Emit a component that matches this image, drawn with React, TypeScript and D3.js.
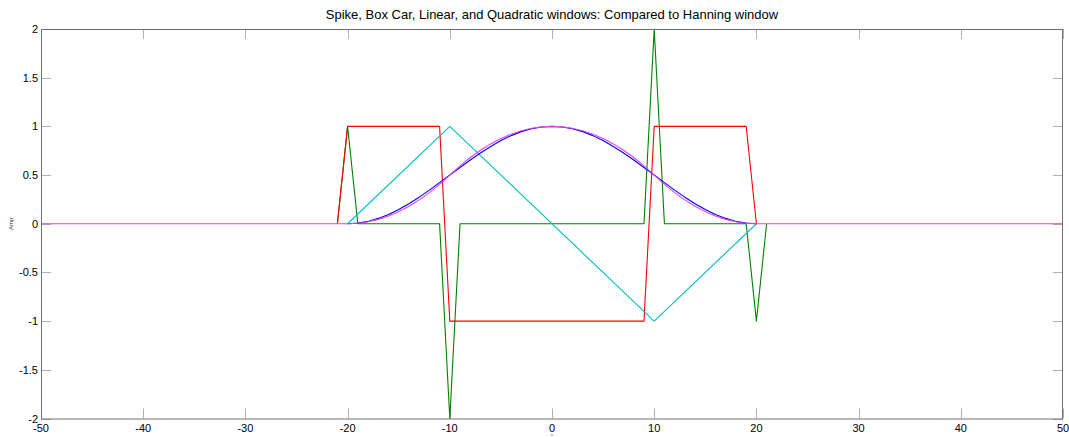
import React from "react";
import * as d3 from "d3";

// x positions of the quadratic window (samples at every integer from -20 to 20, flat outside)
const smoothX = [-50, -20, -19, -18, -17, -16, -15, -14, -13, -12, -11, -10, -9, -8, -7, -6, -5, -4, -3, -2, -1,
  0, 1, 2, 3, 4, 5, 6, 7, 8, 9, 10, 11, 12, 13, 14, 15, 16, 17, 18, 19, 20, 50];

// Hanning window (blue), only drawn on -20..20
const hanningX = [-20, -19, -18, -17, -16, -15, -14, -13, -12, -11, -10, -9, -8, -7, -6, -5, -4, -3, -2, -1,
  0, 1, 2, 3, 4, 5, 6, 7, 8, 9, 10, 11, 12, 13, 14, 15, 16, 17, 18, 19, 20];
const hanningY = [0, 0.006, 0.024, 0.055, 0.095, 0.146, 0.206, 0.273, 0.345, 0.422, 0.5, 0.578, 0.655, 0.727, 0.794, 0.854, 0.905, 0.946, 0.976, 0.994,
  1, 0.994, 0.976, 0.946, 0.905, 0.854, 0.794, 0.727, 0.655, 0.578, 0.5, 0.422, 0.345, 0.273, 0.206, 0.146, 0.095, 0.055, 0.024, 0.006, 0];

// Quadratic window (magenta)
const quadraticY = [0, 0, 0.005, 0.02, 0.045, 0.08, 0.125, 0.18, 0.245, 0.32, 0.405, 0.5, 0.595, 0.68, 0.755, 0.82, 0.875, 0.92, 0.955, 0.98, 0.995,
  1, 0.995, 0.98, 0.955, 0.92, 0.875, 0.82, 0.755, 0.68, 0.595, 0.5, 0.405, 0.32, 0.245, 0.18, 0.125, 0.08, 0.045, 0.02, 0.005, 0, 0];

// Box car window (red)
const boxX = [-21, -20, -11, -10, 9, 10, 19, 20];
const boxY = [0, 1, 1, -1, -1, 1, 1, 0];

// Spike window (green)
const spikeX = [-21, -20, -19, -11, -10, -9, 9, 10, 11, 19, 20, 21];
const spikeY = [0, 1, 0, 0, -2, 0, 0, 2, 0, 0, -1, 0];

// Linear window (cyan)
const linearX = [-20, -10, 10, 20];
const linearY = [0, 1, -1, 0];

const xTicks = [-50, -40, -30, -20, -10, 0, 10, 20, 30, 40, 50];
const yTicks = [-2, -1.5, -1, -0.5, 0, 0.5, 1, 1.5, 2];

const W = 1069;
const H = 437;
const margin = { top: 29, right: 6, bottom: 18.5, left: 41 };

const zip = (xs: number[], ys: number[]) => xs.map((x, i) => [x, ys[i]] as [number, number]);

export default function App() {
  const x = d3.scaleLinear().domain([-50, 50]).range([margin.left, W - margin.right]);
  const y = d3.scaleLinear().domain([-2, 2]).range([H - margin.bottom, margin.top]);
  const line = d3.line<[number, number]>().x(d => x(d[0])).y(d => y(d[1]));

  const series = [
    { data: zip(spikeX, spikeY), color: "#008000" },
    { data: zip(boxX, boxY), color: "#ff0000" },
    { data: zip(linearX, linearY), color: "#00bfbf" },
    { data: zip(hanningX, hanningY), color: "#0000ff" },
    { data: zip(smoothX, quadraticY), color: "#e040e0" },
  ];

  const x0 = margin.left, x1 = W - margin.right, y0 = margin.top, y1 = H - margin.bottom;
  const tick = 10;
  const font = "'Liberation Sans', Arial, sans-serif";

  return (
    <svg width={W} height={H} style={{ position: "absolute", left: 0, top: 0, background: "#fff" }} fontFamily={font}>
      <rect x={0} y={0} width={W} height={H} fill="#ffffff" />
      {/* ticks */}
      <g stroke="#b0b0b0" strokeWidth={1}>
        {xTicks.map(t => (
          <g key={"xt" + t}>
            <line x1={Math.round(x(t)) + 0.5} x2={Math.round(x(t)) + 0.5} y1={y1} y2={y1 - tick} />
            <line x1={Math.round(x(t)) + 0.5} x2={Math.round(x(t)) + 0.5} y1={y0} y2={y0 + tick} />
          </g>
        ))}
        {yTicks.map(t => (
          <g key={"yt" + t}>
            <line y1={Math.round(y(t)) + 0.5} y2={Math.round(y(t)) + 0.5} x1={x0} x2={x0 + tick} />
            <line y1={Math.round(y(t)) + 0.5} y2={Math.round(y(t)) + 0.5} x1={x1} x2={x1 - tick} />
          </g>
        ))}
      </g>
      {/* series */}
      <g fill="none" strokeWidth={1.1} strokeLinejoin="round">
        {series.map((s, i) => (
          <path key={i} d={line(s.data) || ""} stroke={s.color} />
        ))}
      </g>
      {/* box */}
      <rect x={x0 + 0.5} y={y0 + 0.5} width={x1 - x0 - 1} height={y1 - y0} fill="none" stroke="#707070" strokeWidth={1} />
      {/* tick labels */}
      <g fontSize={11} fill="#000">
        {xTicks.map(t => (
          <text key={"xl" + t} x={x(t)} y={y1 + 13} textAnchor="middle">{t}</text>
        ))}
        {yTicks.map(t => (
          <text key={"yl" + t} x={x0 - 3} y={y(t) + 4} textAnchor="end">{t}</text>
        ))}
      </g>
      <text x={(x0 + x1) / 2} y={19} textAnchor="middle" fontSize={13} fill="#000">
        Spike, Box Car, Linear, and Quadratic windows: Compared to Hanning window
      </text>
      <text transform={`translate(13,${y(0)}) rotate(-90)`} textAnchor="middle" fontSize={6} fill="#333">Amp</text>
      <text x={(x0 + x1) / 2} y={H - 1} textAnchor="middle" fontSize={4} fill="#666">n</text>
    </svg>
  );
}
